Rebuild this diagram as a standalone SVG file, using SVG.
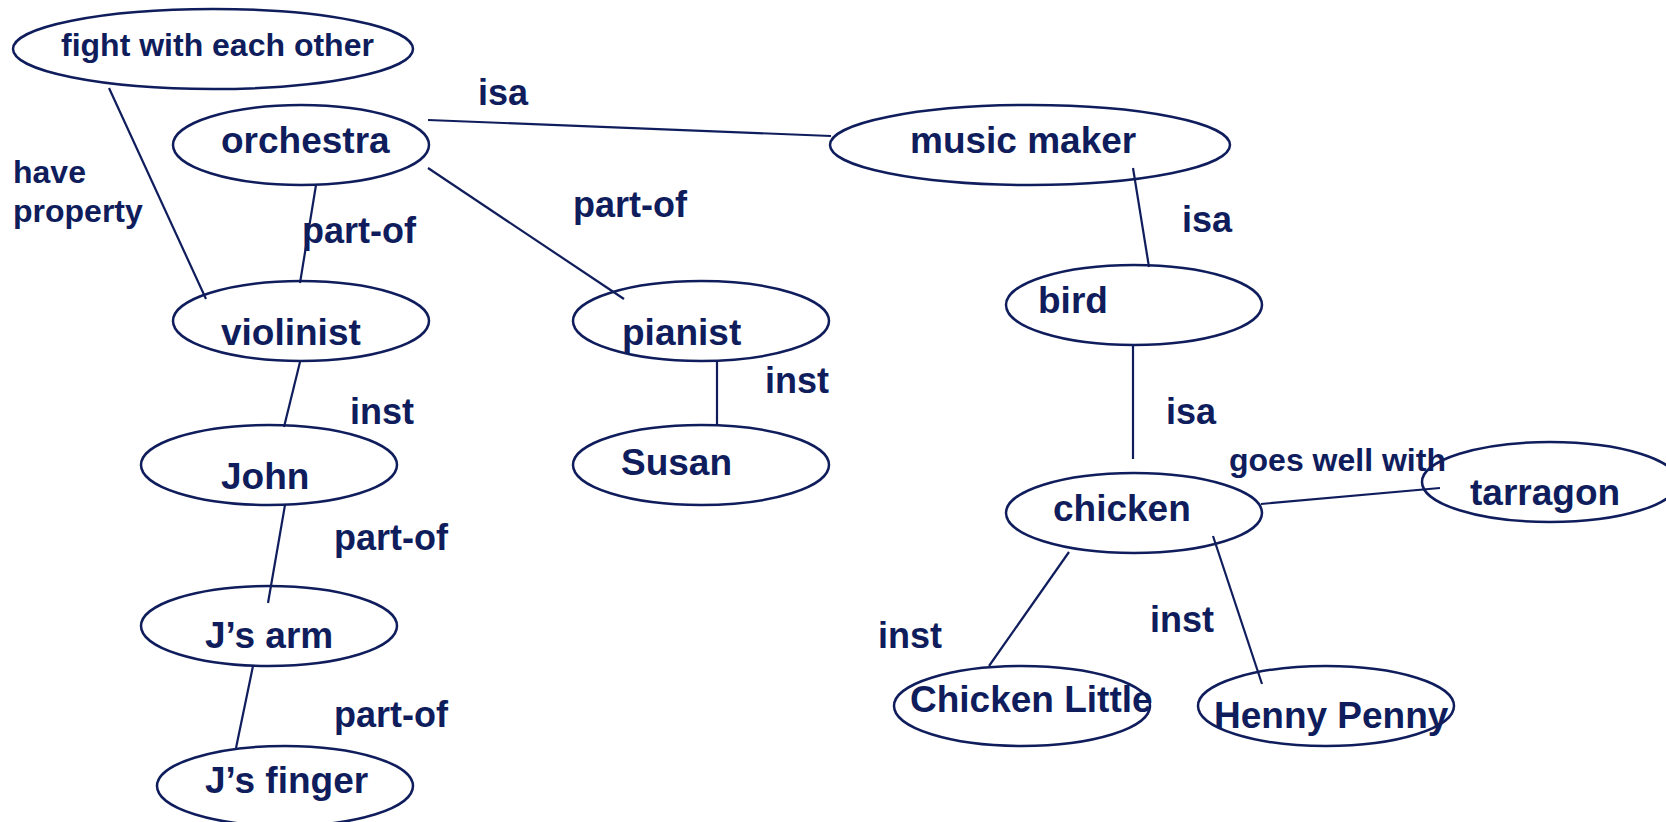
<svg xmlns="http://www.w3.org/2000/svg" width="1666" height="822" viewBox="0 0 1666 822">
<style>
.n{fill:none;stroke:#0f1d5c;stroke-width:2.5}
.e{stroke:#0f1d5c;stroke-width:2.2;fill:none}
text{font-family:"Liberation Sans",Arial,sans-serif;font-weight:bold;fill:#0f1d5c;font-size:37px}
.l{font-size:36px}
.s{font-size:32px}
</style>
<rect width="1666" height="822" fill="#fff"/>
<g id="edges">
<line class="e" x1="109" y1="88" x2="206" y2="299"/>
<line class="e" x1="316" y1="185" x2="300" y2="283"/>
<line class="e" x1="428" y1="120" x2="831" y2="136"/>
<line class="e" x1="428" y1="168" x2="624" y2="299"/>
<line class="e" x1="1133" y1="168" x2="1149" y2="267"/>
<line class="e" x1="300" y1="362" x2="284" y2="427"/>
<line class="e" x1="717" y1="362" x2="717" y2="426"/>
<line class="e" x1="1133" y1="345" x2="1133" y2="459"/>
<line class="e" x1="285" y1="505" x2="268" y2="603"/>
<line class="e" x1="253" y1="666" x2="236" y2="748"/>
<line class="e" x1="1261" y1="504" x2="1440" y2="488"/>
<line class="e" x1="1069" y1="552" x2="989" y2="666"/>
<line class="e" x1="1213" y1="536" x2="1262" y2="684"/>
<text x="478" y="105" class="l">isa</text>
<text x="13" y="183" class="s">have</text>
<text x="13" y="222" class="s">property</text>
<text x="302" y="243" class="l">part-of</text>
<text x="573" y="217" class="l">part-of</text>
<text x="1182" y="232" class="l">isa</text>
<text x="350" y="424" class="l">inst</text>
<text x="765" y="393" class="l">inst</text>
<text x="1166" y="424" class="l">isa</text>
<text x="334" y="550" class="l">part-of</text>
<text x="334" y="727" class="l">part-of</text>
<text x="878" y="648" class="l">inst</text>
<text x="1150" y="632" class="l">inst</text>
<text x="1229" y="471" class="s">goes well with</text>
</g>
<g id="fight"><ellipse class="n" cx="213" cy="49" rx="200" ry="40"/><text x="61" y="56" class="s">fight with each other</text></g>
<g id="orchestra"><ellipse class="n" cx="301" cy="145" rx="128" ry="40"/><text x="221" y="153">orchestra</text></g>
<g id="musicmaker"><ellipse class="n" cx="1030" cy="145" rx="200" ry="40"/><text x="910" y="153">music maker</text></g>
<g id="violinist"><ellipse class="n" cx="301" cy="321" rx="128" ry="40"/><text x="221" y="345">violinist</text></g>
<g id="pianist"><ellipse class="n" cx="701" cy="321" rx="128" ry="40"/><text x="622" y="345">pianist</text></g>
<g id="bird"><ellipse class="n" cx="1134" cy="305" rx="128" ry="40"/><text x="1038" y="313">bird</text></g>
<g id="john"><ellipse class="n" cx="269" cy="465" rx="128" ry="40"/><text x="221" y="489">John</text></g>
<g id="susan"><ellipse class="n" cx="701" cy="465" rx="128" ry="40"/><text x="621" y="475">Susan</text></g>
<g id="chicken"><ellipse class="n" cx="1134" cy="513" rx="128" ry="40"/><text x="1053" y="521">chicken</text></g>
<g id="tarragon"><ellipse class="n" cx="1550" cy="482" rx="128" ry="40"/><text x="1470" y="505">tarragon</text></g>
<g id="jsarm"><ellipse class="n" cx="269" cy="626" rx="128" ry="40"/><text x="205" y="648">J’s arm</text></g>
<g id="jsfinger"><ellipse class="n" cx="285" cy="786" rx="128" ry="40"/><text x="205" y="793">J’s finger</text></g>
<g id="chickenlittle"><ellipse class="n" cx="1022" cy="706" rx="128" ry="40"/><text x="910" y="712">Chicken Little</text></g>
<g id="hennypenny"><ellipse class="n" cx="1326" cy="706" rx="128" ry="40"/><text x="1214" y="728">Henny Penny</text></g>
</svg>
